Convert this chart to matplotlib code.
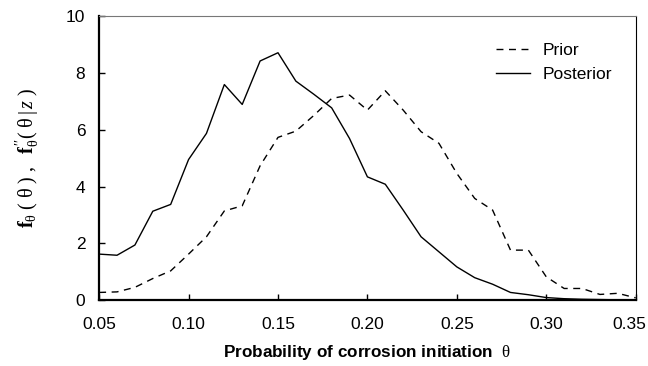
import matplotlib
matplotlib.use('Agg')
import matplotlib.pyplot as plt
import matplotlib.transforms as mtransforms
import numpy as np

plt.rcParams['font.family'] = ['Liberation Sans', 'DejaVu Sans']
plt.rcParams['mathtext.fontset'] = 'custom'
plt.rcParams['mathtext.rm'] = 'Liberation Serif'
plt.rcParams['mathtext.it'] = 'Liberation Serif:italic'
plt.rcParams['mathtext.bf'] = 'Liberation Serif:bold'

theta = [0.05, 0.06, 0.07, 0.08, 0.09, 0.10, 0.11, 0.12, 0.13, 0.14, 0.15,
         0.16, 0.17, 0.18, 0.19, 0.20, 0.21, 0.22, 0.23, 0.24, 0.25, 0.26,
         0.27, 0.28, 0.29, 0.30, 0.31, 0.32, 0.33, 0.34, 0.35]
prior = [0.27, 0.29, 0.45, 0.76, 1.03, 1.62, 2.23, 3.14, 3.32, 4.73, 5.73,
         5.95, 6.50, 7.10, 7.22, 6.69, 7.37, 6.69, 5.93, 5.52, 4.46, 3.58,
         3.17, 1.76, 1.76, 0.82, 0.41, 0.41, 0.20, 0.24, 0.08]
posterior = [1.62, 1.58, 1.94, 3.13, 3.37, 4.95, 5.87, 7.59, 6.89, 8.42, 8.71,
             7.71, 7.25, 6.77, 5.69, 4.34, 4.08, 3.17, 2.23, 1.70, 1.17, 0.79,
             0.56, 0.27, 0.19, 0.09, 0.05, 0.03, 0.02, 0.01, 0.01]

fig = plt.figure(figsize=(6.48, 3.66), dpi=100)
ax = fig.add_axes([0.153, 0.180, 0.828, 0.776])

ax.plot(theta, prior, 'k--', lw=1.0, dashes=(5, 4), label='Prior')
ax.plot(theta, posterior, 'k-', lw=1.0, label='Posterior')

ax.set_xlim(0.05, 0.35)
ax.set_ylim(0, 10)
xt = np.arange(0.05, 0.351, 0.05)
ax.set_xticks(xt)
ax.set_xticklabels(['%.2f' % v for v in xt])
ax.set_yticks([0, 2, 4, 6, 8, 10])
ax.tick_params(direction='in', labelsize=12.5, length=4, width=1, pad=10)
ax.tick_params(axis='x', pad=12)

# keep the last x tick label inside the figure
last = ax.get_xticklabels()[-1]
last.set_transform(last.get_transform() +
                   mtransforms.ScaledTranslation(-6 / 100, 0, fig.dpi_scale_trans))

for s in ['left', 'bottom']:
    ax.spines[s].set_linewidth(1.6)
ax.spines['top'].set_color('#777777')
ax.spines['right'].set_linewidth(0.8)

ax.set_xlabel(r'Probability of corrosion initiation  $\mathrm{\theta}$',
              fontsize=12.3, fontweight='bold', labelpad=8)
ax.set_ylabel(r'$\mathbf{f}_{\mathrm{\theta}}\ (\ \mathrm{\theta}\ )\ ,\ \ '
              r'\mathbf{f}_{\mathrm{\theta}}^{\,\prime\prime}(\ \mathrm{\theta}\,|\,\mathit{z}\ )$',
              fontsize=14.5, labelpad=18)

ax.legend(loc='upper right', frameon=False, fontsize=12.5, handlelength=2.0,
          handletextpad=0.7, bbox_to_anchor=(0.985, 0.96), labelspacing=0.5)

fig.savefig('out.png', dpi=100)
